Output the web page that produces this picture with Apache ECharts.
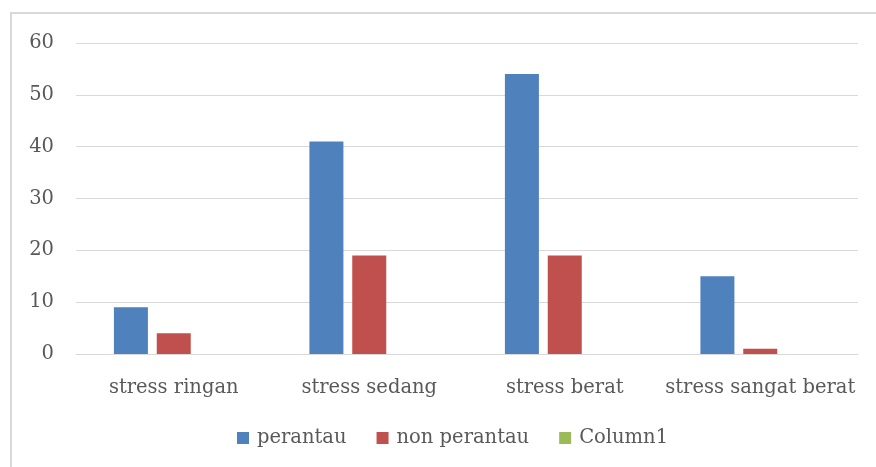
<!DOCTYPE html>
<html><head><meta charset="utf-8">
<script src="https://cdn.jsdelivr.net/npm/echarts@6/dist/echarts.min.js"></script>
<style>html,body{margin:0;padding:0;background:#fff}#c{width:876px;height:467px}</style>
</head><body><div id="c"></div>
<script>
const categories = ['stress ringan', 'stress sedang', 'stress berat', 'stress sangat berat'];
const perantau = [9, 41, 54, 15];
const nonPerantau = [4, 19, 19, 1];
const column1 = [null, null, null, null];
const yTicks = {min: 0, max: 60, interval: 10};

const font = 'DejaVu Serif';
const chart = echarts.init(document.getElementById('c'));
chart.setOption({
  animation: false,
  graphic: [{type: 'rect', shape: {x: 11, y: 13, width: 880, height: 470}, style: {fill: 'none', stroke: '#d9d9d9', lineWidth: 2}, silent: true}],
  grid: {left: 76, right: 18, top: 43, bottom: 113},
  xAxis: {type: 'category', data: categories,
    axisLine: {show: true, lineStyle: {color: '#d9d9d9', width: 1}},
    axisTick: {show: false},
    axisLabel: {color: '#595959', fontFamily: font, fontSize: 19.5, margin: 24, interval: 0}},
  yAxis: {type: 'value', min: yTicks.min, max: yTicks.max, interval: yTicks.interval,
    axisLine: {show: false}, axisTick: {show: false},
    splitLine: {lineStyle: {color: '#d9d9d9', width: 1}},
    axisLabel: {color: '#595959', fontFamily: font, fontSize: 19.5, margin: 22}},
  legend: {bottom: 14, left: 232, itemWidth: 12, itemHeight: 12, itemGap: 30,
    icon: 'rect', textStyle: {color: '#595959', fontFamily: font, fontSize: 19.5, padding: [0, 0, 0, 3]}},
  series: [
    {name: 'perantau', type: 'bar', data: perantau, barWidth: 34, barGap: '26%', barCategoryGap: '38%', itemStyle: {color: '#4F81BD'}},
    {name: 'non perantau', type: 'bar', data: nonPerantau, barWidth: 34, itemStyle: {color: '#C0504D'}},
    {name: 'Column1', type: 'bar', data: column1, barWidth: 34, itemStyle: {color: '#9BBB59'}}
  ]
});
</script></body></html>
